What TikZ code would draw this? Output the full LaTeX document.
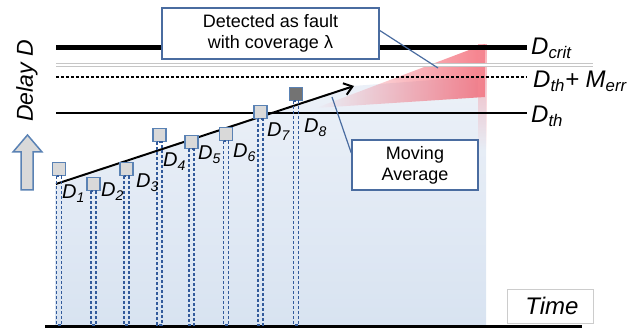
\documentclass[tikz,border=0pt]{standalone}
\usepackage{fontspec}
\setmainfont{Liberation Sans}
\usetikzlibrary{arrows.meta,calc,fadings}
\definecolor{boxblue}{RGB}{74,108,160}
\definecolor{dashblue}{RGB}{50,90,155}
\definecolor{sqborder}{RGB}{90,130,180}
\definecolor{sqfill}{RGB}{217,217,217}
\definecolor{sqdark}{RGB}{115,115,115}
\definecolor{bgblue}{RGB}{216,227,241}
\definecolor{bgtop}{RGB}{236,241,248}
\definecolor{wedgered}{RGB}{242,85,100}
\tikzfading[name=fadeleft, left color=transparent!100, right color=transparent!25]
\tikzfading[name=fadedown, top color=transparent!30, bottom color=transparent!100]
\begin{document}
\begin{tikzpicture}[x=1pt,y=-1pt,
  sq/.style={draw=sqborder, fill=sqfill, line width=1.6pt, minimum size=13pt, inner sep=0pt},
  dsh/.style={draw=dashblue, line width=1.8pt, dash pattern=on 3pt off 2pt},
  dlab/.style={anchor=base west, inner sep=0pt, font=\fontsize{20}{24}\selectfont\itshape},
  rlab/.style={anchor=base west, inner sep=0pt, font=\fontsize{24}{28}\selectfont\itshape},
  callout/.style={draw=boxblue, line width=1.5pt, fill=white, align=center, inner sep=0pt, font=\fontsize{18}{21}\selectfont},
  ptr/.style={draw=boxblue, line width=1.2pt}]
\useasboundingbox (0,0) rectangle (644,328);
% shaded regions
\shade[top color=bgtop, bottom color=bgblue] (55,325) -- (55,186) -- (353,86) -- (486,76) -- (486,325) -- cycle;
\fill[wedgered, path fading=fadeleft] (316,108) -- (485,44) -- (485,97) -- cycle;
\fill[wedgered!70, path fading=fadedown] (478,44) rectangle (487,150);
% level lines
\draw[line width=4.5pt] (56,47.5) -- (527,47.5);
\draw[draw=gray!45, double=white, line width=0.8pt, double distance=2.5pt] (56,65) -- (593,65);
\draw[line width=2.5pt, dash pattern=on 2.5pt off 2.5pt] (56,77) -- (527,77);
\draw[line width=1.8pt] (56,113) -- (527,113);
% baseline
\coordinate (bl) at (0,325);
\coordinate (bx0) at (45,326);
\coordinate (bx1) at (582,326);
\draw[line width=3pt] (bx0) -- (bx1);
% moving average
\coordinate (m0) at (56,184);
\coordinate (m1) at (354,86);
\draw[line width=2pt, -{Straight Barb[length=8pt,width=12pt,line width=2pt]}] (m0) -- (m1);
% samples
\node[sq] (s1) at (59,169) {};
\node[sq] (s2) at (93.5,184) {};
\node[sq] (s3) at (126.5,169) {};
\node[sq] (s4) at (159.5,135) {};
\node[sq] (s5) at (191.5,142) {};
\node[sq] (s6) at (226,134) {};
\node[sq] (s7) at (260.5,112) {};
\node[sq, fill=sqdark] (s8) at (296,94) {};
\foreach \s in {s1,s2,s3,s4,s5,s6,s7,s8}{
  \draw[dsh] ($(\s.south)+(-2.5,0)$) rectangle ($(\s.south|-bl)+(2.5,0)$);
}
% sample labels
\node[dlab] (l1) at (62,199) {D\textsubscript{1}};
\node[dlab] (l2) at (101,197) {D\textsubscript{2}};
\node[dlab] (l3) at (136,188) {D\textsubscript{3}};
\node[dlab] (l4) at (163,167) {D\textsubscript{4}};
\node[dlab] (l5) at (198,160) {D\textsubscript{5}};
\node[dlab] (l6) at (233,158) {D\textsubscript{6}};
\node[dlab] (l7) at (267,137) {D\textsubscript{7}};
\node[dlab] (l8) at (304,133) {D\textsubscript{8}};
% right labels
\node[rlab] (lc) at (531,55) {D\textsubscript{crit}};
\node[rlab] (lm) at (533,88) {D\textsubscript{th}+ M\textsubscript{err}};
\node[rlab] (lt) at (531,123) {D\textsubscript{th}};
% axis label and arrow
\node[rotate=90, inner sep=0pt, font=\fontsize{23}{27}\selectfont\itshape] (dl) at (27,81) {Delay D};
\draw[draw=sqborder, fill=sqfill, line width=1.5pt] (21,190) -- (21,152) -- (13,152) -- (27.5,135) -- (42,152) -- (33,152) -- (33,190) -- cycle;
% callouts
\node[callout, minimum width=217pt, minimum height=51pt] (b1) at (270.5,33.5) {Detected as fault\\with coverage λ};
\node[callout, minimum width=126pt, minimum height=50pt] (b2) at (415,165) {Moving\\Average};
\node[draw=gray!40, line width=0.8pt, fill=white, minimum width=86pt, minimum height=34pt, inner sep=0pt, font=\fontsize{24}{28}\selectfont\itshape] (tm) at (550,306) {\hspace*{4pt}Time};
\coordinate (rp) at (438,68);
\draw[ptr] ($(b1.east)+(0,-3)$) -- (rp);
\coordinate (mp) at (332,97);
\draw[ptr] ($(b2.west)+(0,-12)$) -- (mp);
\end{tikzpicture}
\end{document}
